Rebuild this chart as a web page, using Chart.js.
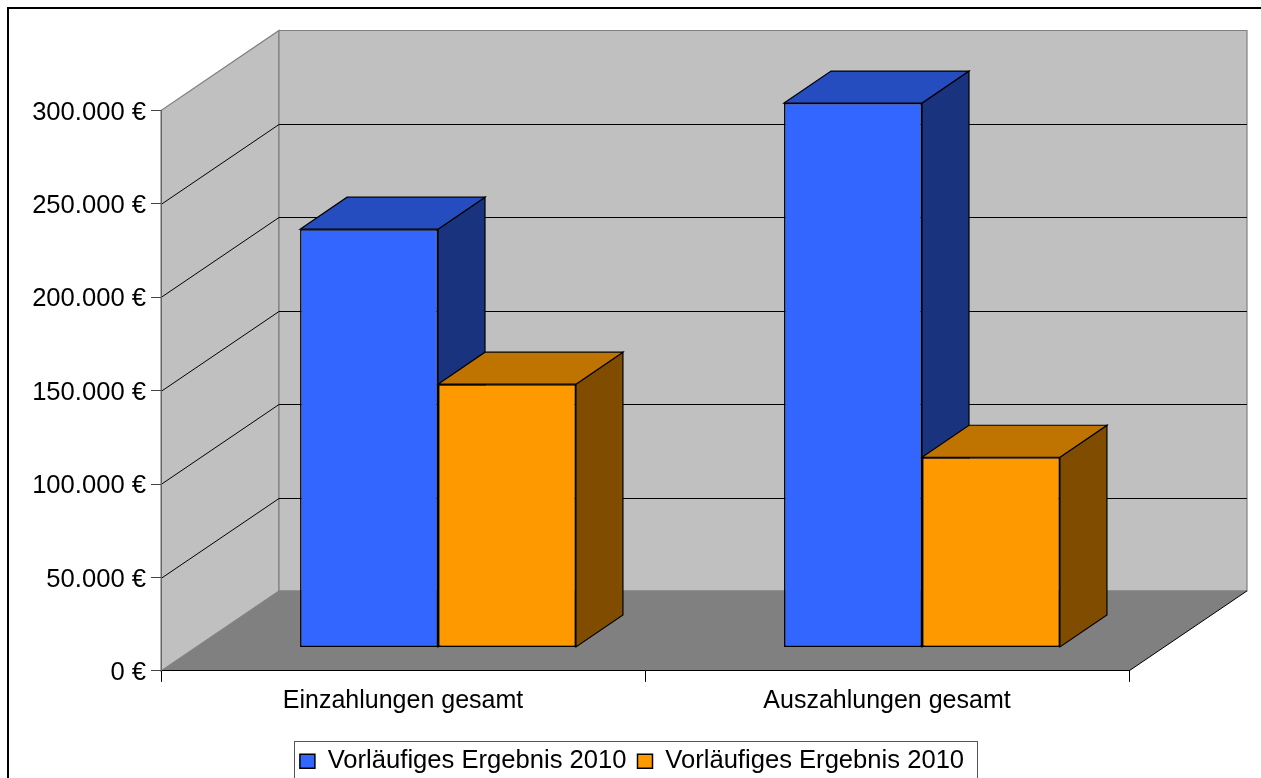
<!DOCTYPE html>
<html>
<head>
<meta charset="utf-8">
<script src="https://cdn.jsdelivr.net/npm/chart.js@4"></script>
<style>
    html, body { margin: 0; padding: 0; background: #fff; overflow: hidden; }
    canvas { display: block; }
</style>
</head>
<body>
<canvas id="grafico" width="1261" height="778"></canvas>
<script>
const categorias = ['Einzahlungen gesamt', 'Auszahlungen gesamt'];
const serie1 = [223900, 291400];
const serie2 = [140900, 101800];
const nombreSerie1 = 'Vorläufiges Ergebnis 2010';
const nombreSerie2 = 'Vorläufiges Ergebnis 2010';
const coloresFrente = ['#3366ff', '#ff9900'];
const coloresArriba = ['#264dbf', '#bf7300'];
const coloresLado = ['#19337f', '#804d00'];

// profundidad de la caja y de las barras
const fondoX = 118, fondoY = 80;
const barraX = 47, barraY = 32;
const despX = 35, despY = 23.5;
const fuente = '"Liberation Sans", Arial, sans-serif';

function poligono(ctx, puntos, relleno, borde) {
    ctx.beginPath();
    puntos.forEach((p, i) => i ? ctx.lineTo(p[0], p[1]) : ctx.moveTo(p[0], p[1]));
    ctx.closePath();
    if (relleno) { ctx.fillStyle = relleno; ctx.fill(); }
    if (borde) { ctx.strokeStyle = borde; ctx.lineWidth = 1.2; ctx.stroke(); }
}

const caja3d = {
    id: 'caja3d',
    beforeDraw(chart) {
        const ctx = chart.ctx;
        const { left, right, top, bottom } = chart.chartArea;
        const y = chart.scales.y;
        // pared lateral, pared de fondo y suelo
        poligono(ctx, [[left, bottom], [left + fondoX, bottom - fondoY], [left + fondoX, top - fondoY], [left, top]], '#c0c0c0', '#808080');
        poligono(ctx, [[left + fondoX, bottom - fondoY], [right + fondoX, bottom - fondoY], [right + fondoX, top - fondoY], [left + fondoX, top - fondoY]], '#c0c0c0', '#808080');
        poligono(ctx, [[left, bottom], [left + fondoX, bottom - fondoY], [right + fondoX, bottom - fondoY], [right, bottom]], '#808080');
        ctx.strokeStyle = '#000';
        ctx.lineWidth = 1;
        y.ticks.forEach(t => {
            const py = Math.round(y.getPixelForValue(t.value)) + 0.5;
            if (t.value === 0 || t.value === y.max) return;
            ctx.beginPath();
            ctx.moveTo(left, py);
            ctx.lineTo(left + fondoX, py - fondoY);
            ctx.lineTo(right + fondoX, py - fondoY);
            ctx.stroke();
        });
        // borde del suelo a la derecha
        ctx.beginPath();
        ctx.moveTo(right, bottom);
        ctx.lineTo(right + fondoX, bottom - fondoY);
        ctx.stroke();
    },
    beforeDatasetsDraw(chart) {
        // Chart.js pinta del ultimo al primero, aqui hace falta al reves
        const ctx = chart.ctx;
        ctx.save();
        ctx.translate(despX, -despY);
        chart.getSortedVisibleDatasetMetas().forEach(meta => {
            meta.data.forEach(barra => {
                const p = barra.getProps(['x', 'y', 'base', 'width'], true);
                const izq = p.x - p.width / 2, der = p.x + p.width / 2;
                poligono(ctx, [[der, p.y], [der + barraX, p.y - barraY], [der + barraX, p.base - barraY], [der, p.base]], coloresLado[meta.index], '#000');
                poligono(ctx, [[izq, p.y], [izq + barraX, p.y - barraY], [der + barraX, p.y - barraY], [der, p.y]], coloresArriba[meta.index], '#000');
            });
            meta.controller.draw();
        });
        ctx.restore();
        return false;
    },
    afterLayout(chart) {
        // la leyenda no va centrada con el area del grafico
        const l = chart.legend;
        const d = 632 - (l.left + l.right) / 2;
        l.left += d;
        l.right += d;
        l.top += 6;
        l.bottom += 6;
    },
    afterDraw(chart) {
        const ctx = chart.ctx;
        ctx.strokeStyle = '#000';
        ctx.lineWidth = 2;
        ctx.strokeRect(8, 8, 1300, 900);
        ctx.lineWidth = 1;
        ctx.strokeStyle = '#555';
        ctx.strokeRect(294.5, 741.5, 683, 60);
    }
};

new Chart(document.getElementById('grafico'), {
    type: 'bar',
    data: {
        labels: categorias,
        datasets: [
            { label: nombreSerie1, data: serie1, backgroundColor: coloresFrente[0], borderColor: '#000', borderWidth: 1.5, borderSkipped: false },
            { label: nombreSerie2, data: serie2, backgroundColor: coloresFrente[1], borderColor: '#000', borderWidth: 1.5, borderSkipped: false }
        ]
    },
    plugins: [caja3d],
    options: {
        responsive: false,
        animation: false,
        layout: { padding: { left: 0, right: 132, top: 110.5, bottom: 0 } },
        categoryPercentage: 0.57,
        barPercentage: 1,
        plugins: {
            tooltip: { enabled: false },
            legend: {
                position: 'bottom',
                labels: {
                    color: '#000',
                    boxWidth: 15,
                    boxHeight: 14,
                    padding: 11,
                    font: { family: fuente, size: 25.6 }
                }
            }
        },
        scales: {
            x: {
                afterFit(s) { s.height = 60.5; },
                grid: { offset: true, drawOnChartArea: false, tickLength: 11, tickColor: '#000' },
                border: { color: '#000' },
                ticks: {
                    color: '#000',
                    padding: 4,
                    maxRotation: 0,
                    font: { family: fuente, size: 25 }
                }
            },
            y: {
                min: 0,
                max: 300000,
                afterFit(s) { s.width = 161; },
                grid: { drawOnChartArea: false, tickLength: 10, tickColor: '#444' },
                border: { color: '#666' },
                ticks: {
                    stepSize: 50000,
                    color: '#000',
                    padding: 5,
                    labelOffset: 2,
                    font: { family: fuente, size: 25.6 },
                    callback: v => String(v).replace(/\B(?=(\d{3})+$)/g, '.') + ' €'
                }
            }
        }
    }
});
</script>
</body>
</html>
